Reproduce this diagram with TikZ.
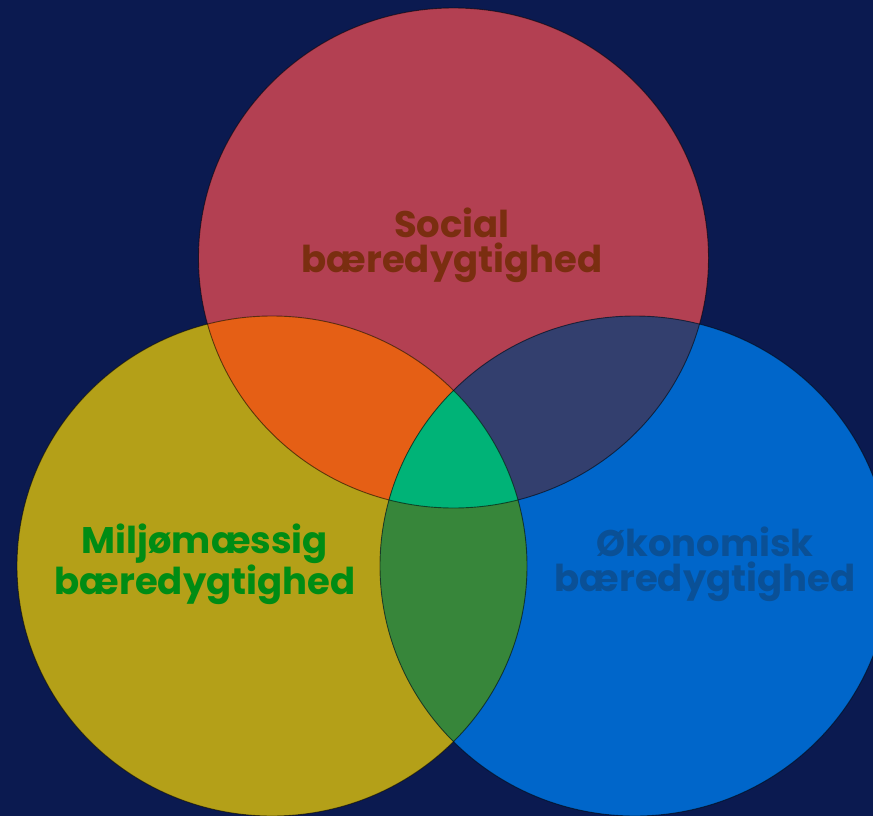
\documentclass[tikz,border=0pt]{standalone}
\usepackage{fontspec}
\setmainfont{Poppins}[Ligatures={NoCommon}]
\definecolor{bgnavy}{RGB}{11,26,80}
\definecolor{cTop}{RGB}{179,64,82}
\definecolor{cLeft}{RGB}{180,160,24}
\definecolor{cRight}{RGB}{0,102,202}
\definecolor{cTL}{RGB}{229,95,21}
\definecolor{cTR}{RGB}{51,63,110}
\definecolor{cLR}{RGB}{55,134,58}
\definecolor{cMid}{RGB}{0,179,119}
\definecolor{tSoc}{RGB}{122,46,16}
\definecolor{tMil}{RGB}{0,140,20}
\definecolor{tOko}{RGB}{10,80,150}
\tikzset{
  oval/.style={x radius=255pt, y radius=250pt},
  rim/.style={draw=black, draw opacity=0.55, line width=0.9pt},
  lbl/.style={font=\fontsize{37}{35}\selectfont\bfseries, align=center, inner sep=0pt}
}
\begin{document}
\begin{tikzpicture}[x=1pt,y=-1pt]
\useasboundingbox (0,0) rectangle (873,816);
\fill[bgnavy] (0,0) rectangle (873,816);
\clip (0,0) rectangle (873,816);
\coordinate (cT) at (453.5,258);
\coordinate (cL) at (272,566);
\coordinate (cR) at (635,566);
% base circles
\fill[cTop] (cT) ellipse[oval];
\fill[cLeft] (cL) ellipse[oval];
\fill[cRight] (cR) ellipse[oval];
% pairwise overlaps
\begin{scope}
  \clip (cL) ellipse[oval];
  \fill[cTL] (cT) ellipse[oval];
\end{scope}
\begin{scope}
  \clip (cR) ellipse[oval];
  \fill[cTR] (cT) ellipse[oval];
\end{scope}
\begin{scope}
  \clip (cL) ellipse[oval];
  \fill[cLR] (cR) ellipse[oval];
\end{scope}
% triple overlap
\begin{scope}
  \clip (cL) ellipse[oval];
  \clip (cR) ellipse[oval];
  \fill[cMid] (cT) ellipse[oval];
\end{scope}
% outlines
\draw[rim] (cT) ellipse[oval];
\draw[rim] (cL) ellipse[oval];
\draw[rim] (cR) ellipse[oval];
% labels
\node[lbl, text=tSoc] (soc) at (452,245) {Social\\bæredygtighed};
\node[lbl, text=tMil] (mil) at (205,564) {Miljømæssig\\bæredygtighed};
\node[lbl, text=tOko] (oko) at (705,564) {Økonomisk\\bæredygtighed};
\end{tikzpicture}
\end{document}
